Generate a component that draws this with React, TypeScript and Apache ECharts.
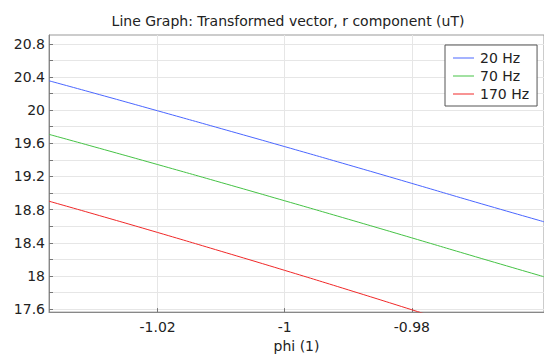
import React, { useEffect, useRef } from "react";
import * as echarts from "echarts";

const phi = [-1.0371, -1.03, -1.02, -1.01, -1.0, -0.99, -0.98, -0.97, -0.9592];
const hz20 = [20.354, 20.205, 19.992, 19.777, 19.56, 19.34, 19.117, 18.892, 18.654];
const hz70 = [19.708, 19.558, 19.344, 19.127, 18.907, 18.685, 18.46, 18.233, 17.991];
const hz170 = [18.902, 18.747, 18.525, 18.298, 18.068, 17.833, 17.593, 17.349, 17.083];
const seriesNames = ["20 Hz", "70 Hz", "170 Hz"];
const xTicks = [-1.02, -1.0, -0.98];
const yLabels = [17.6, 18, 18.4, 18.8, 19.2, 19.6, 20, 20.4, 20.8];
const yTicks = [17.6, 17.8, 18, 18.2, 18.4, 18.6, 18.8, 19, 19.2, 19.4, 19.6, 19.8, 20, 20.2, 20.4, 20.6, 20.8];
const titleText = "Line Graph: Transformed vector, r component (uT)";
const xName = "phi (1)";

const FONT = "DejaVu Sans";

export default function App() {
  const ref = useRef<HTMLDivElement>(null);
  useEffect(() => {
    const chart = echarts.init(ref.current!, null, { renderer: "svg" });
    const fmt = (v: number) => String(Math.round(v * 100) / 100);
    const colors = ["#4a66ff", "#45c245", "#f02828"];
    const datas = [hz20, hz70, hz170];
    chart.setOption({
      animation: false,
      backgroundColor: "#ffffff",
      textStyle: { fontFamily: FONT },
      grid: {
        left: 49,
        top: 35,
        right: -2,
        height: 285,
        show: true,
        borderColor: "#999999",
        borderWidth: 1,
      },
      xAxis: {
        type: "value",
        min: -1.0371,
        max: -0.9592,
        axisLine: { show: true, lineStyle: { color: "#888888" } },
        axisTick: {
          show: true,
          inside: true,
          length: 4,
          customValues: xTicks,
          lineStyle: { color: "#777777" },
        },
        axisLabel: {
          customValues: xTicks,
          formatter: fmt,
          color: "#222222",
          fontSize: 14,
          fontFamily: FONT,
          margin: 8,
        },
        splitLine: { show: true, lineStyle: { color: "#e6e6e6", width: 1 } },
        name: xName,
        nameLocation: "middle",
        nameGap: 22,
        nameTextStyle: { color: "#222222", fontSize: 14, fontFamily: FONT },
      },
      yAxis: {
        type: "value",
        min: 17.565,
        max: 20.906,
        axisLine: { show: true, lineStyle: { color: "#888888" } },
        axisTick: {
          show: true,
          inside: true,
          length: 4,
          customValues: yTicks,
          lineStyle: { color: "#777777" },
        },
        axisLabel: {
          customValues: yLabels,
          formatter: fmt,
          color: "#222222",
          fontSize: 14,
          fontFamily: FONT,
          margin: 4,
        },
        splitLine: { show: true, lineStyle: { color: "#e6e6e6", width: 1 } },
      },
      legend: {
        orient: "vertical",
        left: 445,
        top: 45,
        padding: [6, 8, 5, 8],
        itemGap: 4,
        itemWidth: 21,
        itemHeight: 14,
        backgroundColor: "#ffffff",
        borderColor: "#555555",
        borderWidth: 1,
        borderRadius: 0,
        textStyle: { color: "#222222", fontSize: 14, fontFamily: FONT, padding: [0, 0, 0, 1] },
        data: seriesNames.map((n) => ({ name: n, icon: "path://M0,0 L21,0 L21,1 L0,1 Z" })),
        itemStyle: { borderWidth: 0 },
      },
      graphic: [
        {
          type: "text",
          x: 288,
          y: 21,
          style: {
            text: titleText,
            fontSize: 14,
            fontFamily: FONT,
            fill: "#222222",
            align: "center",
            verticalAlign: "middle",
          },
        },
      ],
      series: datas.map((d, i) => ({
        name: seriesNames[i],
        type: "line",
        data: phi.map((p, j) => [p, d[j]]),
        showSymbol: false,
        symbol: "none",
        smooth: true,
        clip: true,
        color: colors[i],
        lineStyle: { width: 1, color: colors[i] },
      })),
    });
    return () => chart.dispose();
  }, []);
  return (
    <div
      ref={ref}
      style={{ position: "fixed", left: 0, top: 0, width: 544, height: 358 }}
    />
  );
}
